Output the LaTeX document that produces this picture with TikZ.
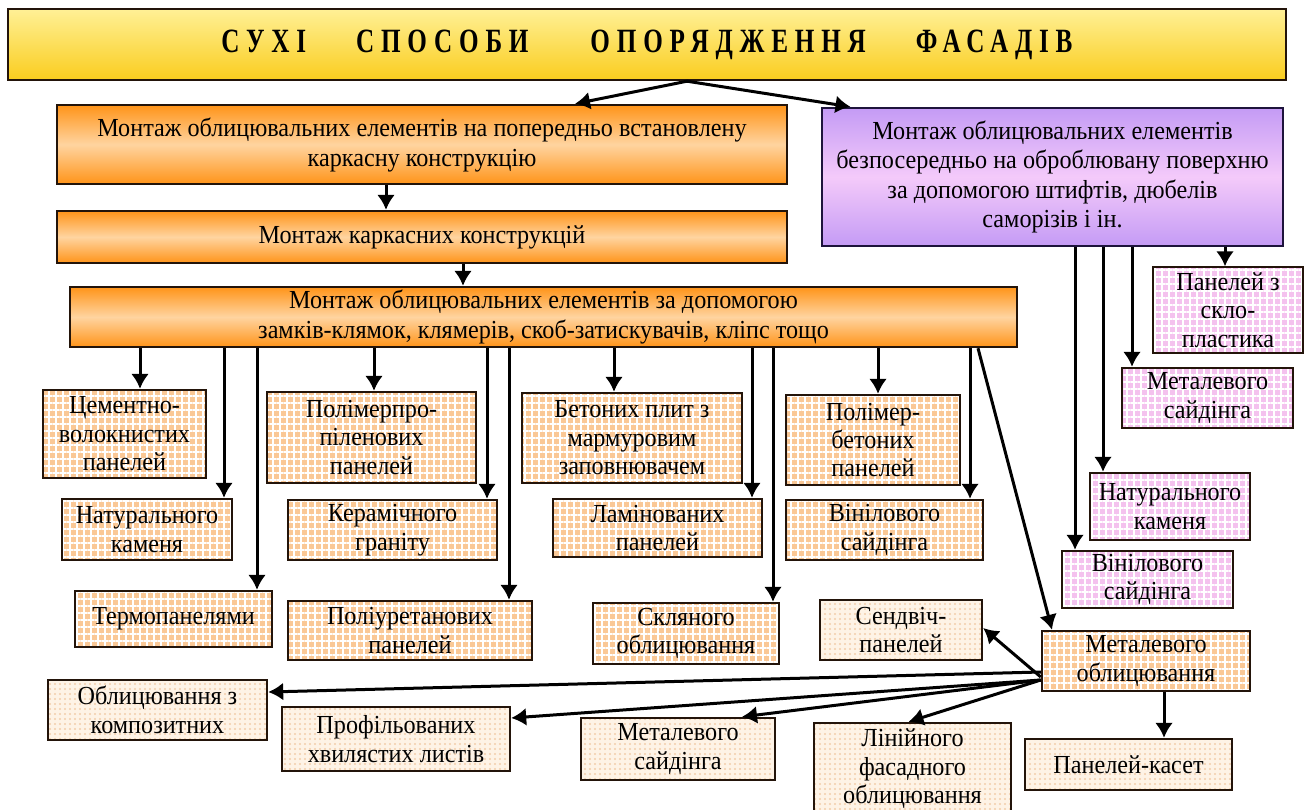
\documentclass[tikz,border=0pt]{standalone}
\usepackage{fontspec}
\setmainfont{Liberation Serif}[FakeStretch=0.93]
\newfontfamily\zagfont{Liberation Serif}[FakeStretch=0.74,LetterSpace=20]
\usetikzlibrary{arrows.meta}
\usetikzlibrary{patterns.meta}
\definecolor{pomaran}{RGB}{255,148,25}
\definecolor{pomaranS}{RGB}{255,212,160}
\definecolor{zhovtyj}{RGB}{250,205,30}
\definecolor{zhovtyjS}{RGB}{255,240,150}
\definecolor{buzok}{RGB}{196,155,245}
\definecolor{buzokS}{RGB}{244,202,250}
\definecolor{pisok}{RGB}{250,200,150}
\definecolor{rozhevyj}{RGB}{244,194,238}
\definecolor{bezh}{RGB}{254,243,230}
\definecolor{krapka}{RGB}{242,205,170}
\definecolor{ramka}{RGB}{35,20,10}
\definecolor{ramkaB}{RGB}{30,20,60}

\begin{document}
\begin{tikzpicture}[x=0.5pt,y=-0.5pt,align=center,inner sep=1pt,
font=\fontsize{13}{14.2}\selectfont,
zagolovok/.style={draw=ramka,line width=1.2pt,top color=zhovtyjS,bottom color=zhovtyj},
etap/.style={draw=ramka,line width=1.2pt,top color=pomaran,bottom color=pomaran,middle color=pomaranS,font=\fontsize{13}{15}\selectfont},
bezpos/.style={draw=ramkaB,line width=1.2pt,top color=buzok,bottom color=buzok,middle color=buzokS,font=\fontsize{13}{14.6}\selectfont},
klitka/.style={draw=ramka,line width=1.2pt,preaction={fill=pisok},pattern={Hatch[distance=3.5pt,line width=0.7pt]},pattern color=white},
klitkaR/.style={draw=ramka,line width=1.2pt,preaction={fill=rozhevyj},pattern={Hatch[distance=3.5pt,line width=0.7pt]},pattern color=white},
krapky/.style={draw=ramka,line width=1.2pt,preaction={fill=bezh},pattern={Dots[distance=2.5pt,radius=0.6pt]},pattern color=krapka},
strilka/.style={-{Latex[length=7.5pt,width=9pt]},line width=1.5pt}
]
\path[fill=white,use as bounding box] (0,0) rectangle (1306,809);
%--
\node[zagolovok,minimum width=639pt,minimum height=35.5pt](zag) at (647,44.5){\zagfont\bfseries\fontsize{17}{17}\selectfont СУХІ\hspace{25pt}СПОСОБИ\hspace{31pt}ОПОРЯДЖЕННЯ\hspace{25pt}ФАСАДІВ};
%--
\node[etap,minimum width=365pt,minimum height=39.5pt](m1) at (422,144.5){Монтаж облицювальних елементів на попередньо встановлену\\каркасну конструкцію};
\draw[strilka] ([xshift=20pt]zag.south) -- ([xshift=76.5pt]m1.north);
\node[etap,minimum width=365pt,minimum height=26pt](m2) at (422,237){Монтаж каркасних конструкцій};
\draw[strilka] ([xshift=-18pt]m1.south) -- ([xshift=-18pt]m2.north);
\node[etap,minimum width=473.5pt,minimum height=30pt,inner sep=0pt](m3) at (543.5,317){Монтаж облицювальних елементів за допомогою\\замків-клямок, клямерів, скоб-затискувачів, кліпс тощо};
\draw[strilka] ([xshift=20.5pt]m2.south) -- ([xshift=-40.25pt]m3.north);
%--
\node[bezpos,minimum width=230.5pt,minimum height=69pt](rb) at (1052.5,177){Монтаж облицювальних елементів\\безпосередньо на оброблювану поверхню\\за допомогою штифтів, дюбелів\\саморізів і ін.};
\draw[strilka] ([xshift=20pt]zag.south) -- ([xshift=-101pt]rb.north);
%--
\node[klitkaR,minimum width=75pt,minimum height=43pt](a) at (1228,310){Панелей з\\скло-\\пластика};
\draw[strilka] ([xshift=86.25pt]rb.south) -- ([xshift=-1.5pt]a.north);
\node[klitkaR,minimum width=85.5pt,minimum height=30pt](b) at (1207.5,398){Металевого\\сайдінга};
\draw[strilka] ([xshift=39.75pt]rb.south) -- ([xshift=-37.75pt]b.north);
\node[klitkaR,minimum width=80pt,minimum height=33.5pt](c) at (1170,506.5){Натурального\\каменя};
\draw[strilka] ([xshift=25.25pt]rb.south) -- ([xshift=-33.5pt]c.north);
\node[klitkaR,minimum width=85.5pt,minimum height=28.5pt](d) at (1147.5,579.5){Вінілового\\сайдінга};
\draw[strilka] ([xshift=11.25pt]rb.south) -- ([xshift=-36.25pt]d.north);
%--
\node[klitka,minimum width=81.5pt,minimum height=44pt](cem) at (124.5,434){Цементно-\\волокнистих\\панелей};
\draw[strilka] ([xshift=-201.75pt]m3.south) -- ([xshift=7.75pt]cem.north);
\node[klitka,minimum width=85pt,minimum height=30.5pt](nat) at (147,529.5){Натурального\\каменя};
\draw[strilka] ([xshift=-159.75pt]m3.south) -- ([xshift=38.5pt]nat.north);
\node[klitka,minimum width=98.5pt,minimum height=28pt](ter) at (173.5,619){Термопанелями};
\draw[strilka] ([xshift=-143.25pt]m3.south) -- ([xshift=41.75pt]ter.north);
%--
\node[klitka,minimum width=104.5pt,minimum height=45.5pt](pp) at (371.5,437.5){Полімерпро-\\піленових\\панелей};
\draw[strilka] ([xshift=-84.75pt]m3.south) -- ([xshift=1.25pt]pp.north);
\node[klitka,minimum width=104.5pt,minimum height=30pt](ker) at (392.5,530){Керамічного\\граніту};
\draw[strilka] ([xshift=-28.25pt]m3.south) -- ([xshift=47.25pt]ker.north);
\node[klitka,minimum width=122pt,minimum height=29.5pt](pu) at (410,630.5){Поліуретанових\\панелей};
\draw[strilka] ([xshift=-17.25pt]m3.south) -- ([xshift=49.5pt]pu.north);
%--
\node[klitka,minimum width=110pt,minimum height=45pt](bet) at (632,438){Бетоних плит з\\мармуровим\\заповнювачем};
\draw[strilka] ([xshift=35.25pt]m3.south) -- ([xshift=-9pt]bet.north);
\node[klitka,minimum width=104.5pt,minimum height=29pt](lam) at (657.5,528){Ламінованих\\панелей};
\draw[strilka] ([xshift=104.25pt]m3.south) -- ([xshift=47.25pt]lam.north);
\node[klitka,minimum width=93pt,minimum height=30.5pt](skl) at (686,633.5){Скляного\\облицювання};
\draw[strilka] ([xshift=114.75pt]m3.south) -- ([xshift=43.5pt]skl.north);
%--
\node[klitka,minimum width=87pt,minimum height=45pt](pb) at (873,440){Полімер-\\бетоних\\панелей};
\draw[strilka] ([xshift=167.25pt]m3.south) -- ([xshift=2.5pt]pb.north);
\node[klitka,minimum width=98.5pt,minimum height=30pt](vin) at (884.5,530){Вінілового\\сайдінга};
\draw[strilka] ([xshift=213.25pt]m3.south) -- ([xshift=42.75pt]vin.north);
%--
\node[klitka,minimum width=104pt,minimum height=30pt](mo) at (1146,661){Металевого\\облицювання};
\draw[strilka] ([xshift=217.25pt]m3.south) -- ([xshift=-47pt]mo.north);
%--
\node[krapky,minimum width=81pt,minimum height=30pt](sen) at (901,630){Сендвіч-\\панелей};
\draw[strilka] ([yshift=-8pt]mo.west) -- ([yshift=1pt]sen.east);
\node[krapky,minimum width=109.5pt,minimum height=30pt](kom) at (157.5,710){Облицювання з\\композитних};
\draw[strilka] ([yshift=-5.5pt]mo.west) -- ([yshift=9pt]kom.east);
\node[krapky,minimum width=114pt,minimum height=32pt](pro) at (396,739){Профільованих\\хвилястих листів};
\draw[strilka] ([yshift=-9.5pt]mo.west) -- ([yshift=10.5pt]pro.east);
\node[krapky,minimum width=97pt,minimum height=31pt](ms) at (678,749){Металевого\\сайдінга};
\draw[strilka] ([yshift=-9.5pt]mo.west) -- ([xshift=32pt]ms.north);
\node[krapky,minimum width=98.5pt,minimum height=46pt](lin) at (912.5,769){Лінійного\\фасадного\\облицювання};
\draw[strilka] ([yshift=-9.5pt]mo.west) -- ([xshift=-2pt]lin.north);
\node[krapky,minimum width=103.5pt,minimum height=25.5pt](kas) at (1128.5,764.5){Панелей-касет};
\draw[strilka] ([xshift=9pt]mo.south) -- ([xshift=17.75pt]kas.north);
\end{tikzpicture}
\end{document}
